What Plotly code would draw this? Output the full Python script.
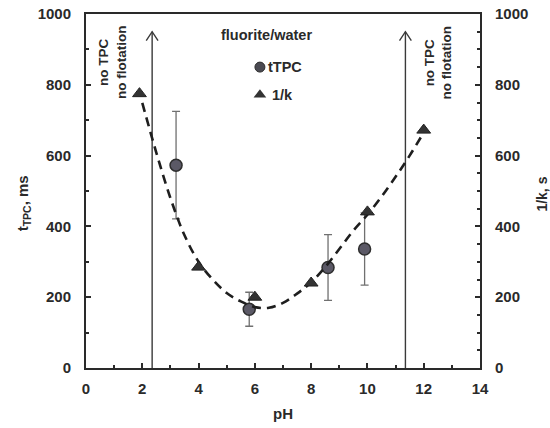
import plotly.graph_objects as go

# Contact time (tTPC) measurements with error bars
ph_tpc = [3.2, 5.8, 8.6, 9.9]
t_tpc = [573, 166, 284, 336]
t_tpc_err = [152, 48, 93, 102]

# Inverse flotation rate constant (1/k)
ph_k = [1.9, 4.0, 6.0, 8.0, 10.0, 12.0]
inv_k = [775, 285, 200, 240, 441, 672]

# Trend line drawn through the 1/k data
ph_fit = [2.0, 2.5, 3.0, 3.5, 4.0, 4.5, 5.0, 5.5, 6.0, 6.5, 7.0, 7.5,
          8.0, 8.5, 9.0, 9.5, 10.0, 10.5, 11.0, 11.5, 12.0]
y_fit = [749, 608, 480, 375, 300, 250, 212, 188, 172, 170, 184, 210,
         242, 285, 336, 388, 433, 484, 540, 600, 665]

# Limits beyond which no TPC / no flotation occurs
ph_limits = [2.35, 11.35]
limit_top = 950
head_dx = 0.21
head_dy = 25

FONT = "Liberation Sans, Arial, sans-serif"
INK = "#2a2a2a"

fig = go.Figure()

# vertical arrows marking the limits
for xl in ph_limits:
    fig.add_trace(go.Scatter(
        x=[xl, xl], y=[0, limit_top], mode="lines",
        line=dict(color="#3a3a3a", width=1.4), showlegend=False, hoverinfo="skip"))
    fig.add_trace(go.Scatter(
        x=[xl - head_dx, xl, xl + head_dx],
        y=[limit_top - head_dy, limit_top, limit_top - head_dy],
        mode="lines", line=dict(color="#3a3a3a", width=1.4),
        showlegend=False, hoverinfo="skip"))

fig.add_trace(go.Scatter(
    x=ph_fit, y=y_fit, mode="lines", line_shape="spline",
    line=dict(color="#1e1e1e", width=2.6, dash="9px,6px"),
    showlegend=False, yaxis="y2"))

fig.add_trace(go.Scatter(
    x=ph_tpc, y=t_tpc, mode="markers",
    marker=dict(symbol="circle", size=12, color="#5b5966",
                line=dict(color="#2e2e2e", width=1.5)),
    error_y=dict(type="data", array=t_tpc_err, color="#707070",
                 thickness=1.3, width=4),
    showlegend=False))

fig.add_trace(go.Scatter(
    x=ph_k, y=inv_k, mode="markers",
    marker=dict(symbol="triangle-up", size=12, color="#333333",
                line=dict(color="#222222", width=1)),
    showlegend=False, yaxis="y2"))

# legend symbols
fig.add_trace(go.Scatter(
    x=[6.18], y=[850], mode="markers",
    marker=dict(symbol="circle", size=10, color="#4a4a52",
                line=dict(color="#2e2e2e", width=1)),
    showlegend=False, hoverinfo="skip"))
fig.add_trace(go.Scatter(
    x=[6.18], y=[772], mode="markers",
    marker=dict(symbol="triangle-up", size=11, color="#333333"),
    showlegend=False, hoverinfo="skip"))

# legend block text
fig.add_annotation(x=0.457, y=0.941, xref="paper", yref="paper",
                   text="<b>fluorite/water</b>", showarrow=False,
                   xanchor="center", yanchor="middle",
                   font=dict(family=FONT, size=14.5, color=INK))
fig.add_annotation(x=0.457, y=0.850, xref="paper", yref="paper",
                   text="<b>tTPC</b>", showarrow=False,
                   xanchor="left", yanchor="middle",
                   font=dict(family=FONT, size=14.5, color=INK))
fig.add_annotation(x=0.466, y=0.771, xref="paper", yref="paper",
                   text="<b>1/k</b>", showarrow=False,
                   xanchor="left", yanchor="middle",
                   font=dict(family=FONT, size=14.5, color=INK))

# rotated notes beside the arrows
for xn in [0.069, 0.895]:
    fig.add_annotation(x=xn, y=0.862, xref="paper", yref="paper",
                       text="<b>no TPC<br>no flotation</b>", showarrow=False,
                       textangle=-90, align="center",
                       xanchor="center", yanchor="middle",
                       font=dict(family=FONT, size=13.5, color=INK))

# axis titles
fig.add_annotation(x=-0.16, y=0.465, xref="paper", yref="paper",
                   text="<b>t<sub>TPC</sub>, ms</b>", showarrow=False,
                   textangle=-90, xanchor="center", yanchor="middle",
                   font=dict(family=FONT, size=15, color=INK))
fig.add_annotation(x=1.155, y=0.49, xref="paper", yref="paper",
                   text="<b>1/k, s</b>", showarrow=False,
                   textangle=-90, xanchor="center", yanchor="middle",
                   font=dict(family=FONT, size=14, color=INK))

axis_common = dict(
    showgrid=False, zeroline=False, showline=True, linecolor=INK, linewidth=2,
    ticks="inside", tickcolor=INK, ticklen=5, tickwidth=1.5,
    tickfont=dict(family=FONT, size=15, color=INK),
    tickprefix="<b>", ticksuffix="</b>", automargin=False,
)

fig.update_layout(
    width=550, height=428,
    margin=dict(l=86, r=70, t=14, b=60),
    paper_bgcolor="white", plot_bgcolor="white",
    font=dict(family=FONT, color=INK),
    xaxis=dict(range=[0, 14], dtick=2, mirror=True, ticklabelstandoff=6,
               minor=dict(dtick=1, ticks="inside", ticklen=3, tickcolor=INK),
               title=dict(text="<b>pH</b>", font=dict(family=FONT, size=15, color=INK),
                          standoff=12),
               **axis_common),
    yaxis=dict(range=[0, 1000], dtick=200, ticklabelstandoff=10,
               minor=dict(dtick=100, ticks="inside", ticklen=3, tickcolor=INK),
               **axis_common),
    yaxis2=dict(range=[0, 1000], dtick=200, overlaying="y", side="right",
                ticklabelstandoff=10,
                minor=dict(dtick=50, ticks="inside", ticklen=3, tickcolor=INK),
                **axis_common),
)

fig.write_html("out.html")
